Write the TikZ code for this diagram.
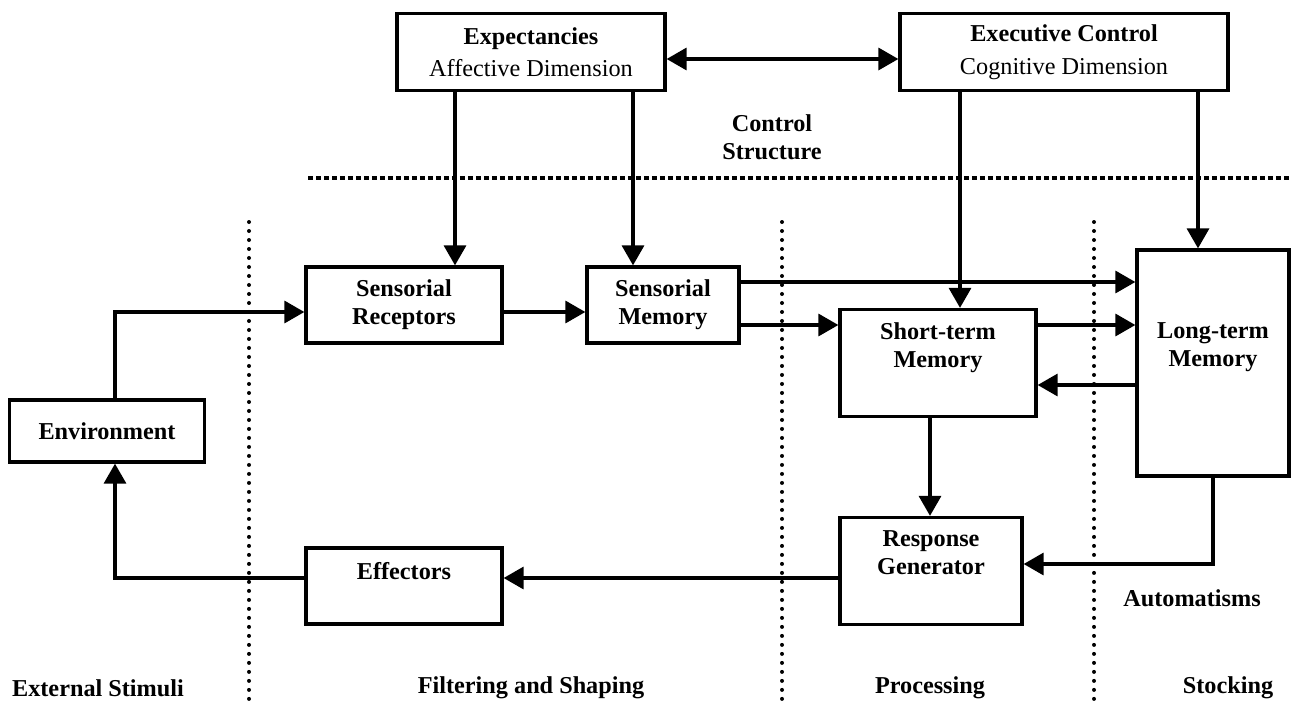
\documentclass[tikz,border=0pt]{standalone}
\usepackage{fontspec}
\setmainfont{Liberation Serif}
\usetikzlibrary{arrows.meta, positioning, calc}

\begin{document}
\begin{tikzpicture}[
    x=0.02cm, y=-0.02cm, >={Triangle[length=0.4cm, width=0.44cm]},
    blk/.style={draw, line width=0.066cm, align=center, inner sep=0pt,
                font=\fontsize{13.8}{16}\selectfont\bfseries},
    arr/.style={->, line width=0.066cm},
    lbl/.style={align=center, font=\fontsize{13.8}{16}\selectfont\bfseries},
    vsep/.style={line width=0.08cm, line cap=round, dash pattern=on 0pt off 0.18cm},
    hsep/.style={line width=0.08cm, dash pattern=on 0.1cm off 0.06cm}
  ]
  \useasboundingbox (0,0) rectangle (1291,707);

  \node[blk, minimum width=5.36cm, minimum height=1.54cm] (exp) at (531,52)
    {Expectancies\\[2pt]\mdseries Affective Dimension};
  \node[blk, minimum width=6.56cm, minimum height=1.54cm] (exe) at (1064,52)
    {Executive Control\\[3pt]\mdseries Cognitive Dimension};
  \node[blk, minimum width=3.92cm, minimum height=1.52cm] (sr) at (404,305)
    {Sensorial\\Receptors};
  \node[blk, minimum width=3.04cm, minimum height=1.52cm] (sm) at (663,305)
    {Sensorial\\Memory};
  \node[blk, minimum width=3.9cm, minimum height=1.24cm] (env) at (107,431)
    {Environment};
  \node[blk, minimum width=3.92cm, minimum height=2.14cm] (stm) at (938,363)
    {Short-term\\Memory\\\strut};
  \node[blk, minimum width=3.04cm, minimum height=4.52cm] (ltm) at (1213,363)
    {Long-term\\Memory\\\strut};
  \node[blk, minimum width=3.64cm, minimum height=2.14cm] (rg) at (931,571)
    {Response\\Generator\\\strut};
  \node[blk, minimum width=3.92cm, minimum height=1.52cm] (eff) at (404,586)
    {Effectors\\[-4pt]\strut};

  \node[lbl] (ctrl) at (772,137) {Control\\Structure};
  \node[lbl] (auto) at (1192,598) {Automatisms};
  \node[lbl] (ext) at (98,688) {External Stimuli};
  \node[lbl] (filt) at (531,688) {Filtering and Shaping};
  \node[lbl] (proc) at (930,688) {Processing};
  \node[lbl] (stock) at (1228,688) {Stocking};

  \draw[hsep] (308,178) -- (1291,178);
  \foreach \x in {249,782,1094}
    \draw[vsep] (\x,222) -- (\x,707);

  \draw[arr, <->] ([yshift=-0.14cm]exp.east) -- ([yshift=-0.14cm]exe.west);
  \draw[arr] (exp.south -| 455,0) -- (sr.north -| 455,0);
  \draw[arr] (exp.south -| 633,0) -- (sm.north -| 633,0);
  \draw[arr] (exe.south -| 960,0) -- (stm.north -| 960,0);
  \draw[arr] (exe.south -| 1198,0) -- (ltm.north -| 1198,0);
  \draw[arr] (env.north -| 115,0) |- ([yshift=-0.14cm]sr.west);
  \draw[arr] ([yshift=-0.14cm]sr.east) -- ([yshift=-0.14cm]sm.west);
  \draw[arr] (sm.east |- 0,282) -- (ltm.west |- 0,282);
  \draw[arr] (sm.east |- 0,325) -- (stm.west |- 0,325);
  \draw[arr] (stm.east |- 0,325) -- (ltm.west |- 0,325);
  \draw[arr] (ltm.west |- 0,385) -- (stm.east |- 0,385);
  \draw[arr] (stm.south -| 930,0) -- (rg.north -| 930,0);
  \draw[arr] (ltm.south) |- (rg.east |- 0,564);
  \draw[arr] (rg.west |- 0,578) -- (eff.east |- 0,578);
  \draw[arr] (eff.west |- 0,578) -| (env.south -| 115,0);
\end{tikzpicture}
\end{document}
